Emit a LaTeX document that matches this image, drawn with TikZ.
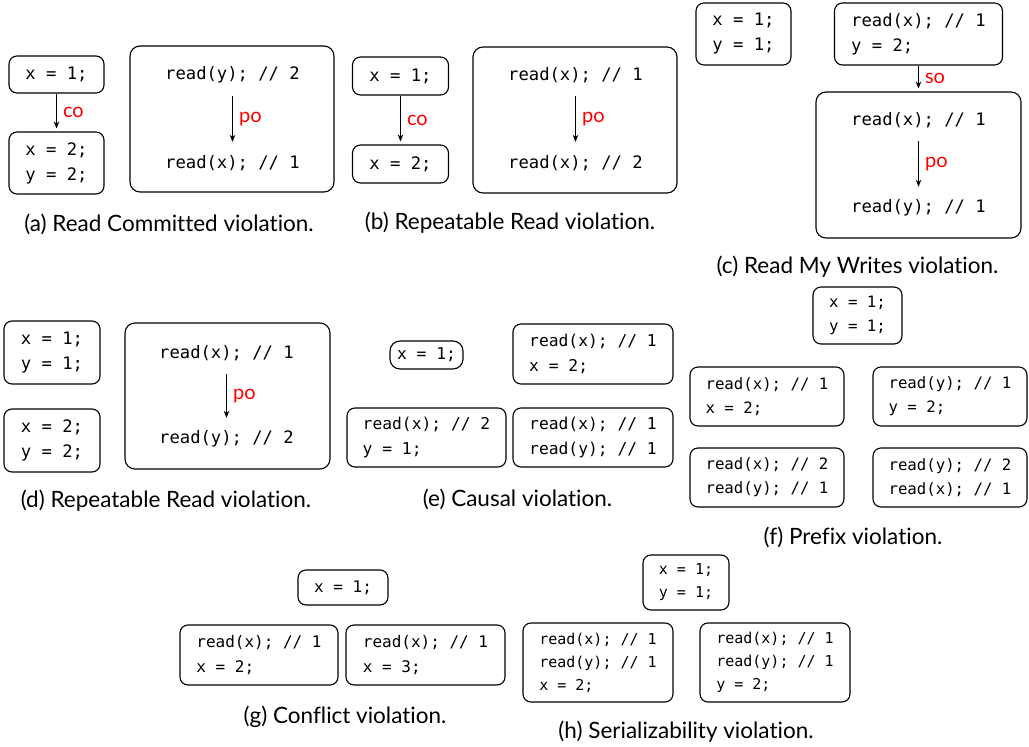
\documentclass[tikz,border=0pt]{standalone}
\usepackage{fontspec}
\setmainfont{Lato}[Ligatures=NoCommon]
\newfontfamily\codefont{DejaVu Sans Mono}
\usetikzlibrary{arrows.meta}
\newcommand\capfont{\fontsize{22.5}{26}\selectfont}
\newcommand\lblfont{\fontsize{20}{22}\selectfont}
\tikzset{
  tx/.style={draw, rounded corners=8pt, line width=1.1pt, inner sep=0pt, align=left},
  bigbox/.style={draw, rounded corners=10pt, line width=1.1pt, inner sep=0pt},
  sz/.style 2 args={minimum width=#1pt, minimum height=#2pt},
  ln/.style={inner sep=0pt, minimum height=42pt},
  arr/.style={-{Stealth[length=7pt,width=5.5pt]}, line width=1.1pt},
  gap/.style={shorten >=3pt},
  lbl/.style={text=red, font=\lblfont, inner sep=2pt, right=4pt},
  captxt/.style={font=\capfont, inner sep=0pt},
  fA/.style={font=\codefont\fontsize{17.2}{25}\selectfont},
  fE/.style={font=\codefont\fontsize{16.3}{25}\selectfont},
  fF/.style={font=\codefont\fontsize{15.7}{24}\selectfont},
  fG/.style={font=\codefont\fontsize{16}{25}\selectfont},
  fH/.style={font=\codefont\fontsize{15}{23}\selectfont},
}
\begin{document}
\begin{tikzpicture}[x=1pt, y=-1pt]
\useasboundingbox (0,0) rectangle (1029,747);

% (a)
\node[tx, fA, sz={95}{37}] (a1) at (56.5,74.5) {x = 1;};
\node[tx, fA, sz={95}{62}] (a2) at (56.5,163) {x = 2;\\y = 2;};
\draw[arr, gap] (a1) -- node[lbl] {co} (a2);
\node[bigbox, sz={204}{146}] (aT) at (232,119) {};
\node[fA, ln] (a3) at (232.5,75) {read(y); // 2};
\node[fA, ln] (a4) at (232.5,163) {read(x); // 1};
\draw[arr] (a3) -- node[lbl] {po} (a4);
\node[captxt] (ca) at (169,224) {(a) Read Committed violation.};

% (b)
\node[tx, fA, sz={96}{38}] (b1) at (400.5,76) {x = 1;};
\node[tx, fA, sz={96}{38}] (b2) at (400.5,164) {x = 2;};
\draw[arr, gap] (b1) -- node[lbl] {co} (b2);
\node[bigbox, sz={204}{146}] (bT) at (575,120) {};
\node[fA, ln] (b3) at (575.5,75) {read(x); // 1};
\node[fA, ln] (b4) at (575.5,163) {read(x); // 2};
\draw[arr] (b3) -- node[lbl] {po} (b4);
\node[captxt] (cb) at (510,223) {(b) Repeatable Read violation.};

% (c)
\node[tx, fA, sz={95}{62}] (c1) at (743.5,34) {x = 1;\\y = 1;};
\node[tx, fA, sz={168}{62}] (c2) at (918.5,34) {read(x); // 1\\y = 2;};
\node[bigbox, sz={205}{146}] (cT) at (918.5,165) {};
\draw[arr, gap] (c2.south) -- node[lbl] {so} (cT.north);
\node[fA, ln] (c3) at (918.5,120) {read(x); // 1};
\node[fA, ln] (c4) at (918.5,208) {read(y); // 1};
\draw[arr] (c3) -- node[lbl] {po} (c4);
\node[captxt] (cc) at (857.5,267) {(c) Read My Writes violation.};

% (d)
\node[tx, fA, sz={96}{63}] (d1) at (52,352.5) {x = 1;\\y = 1;};
\node[tx, fA, sz={96}{63}] (d2) at (52,440.5) {x = 2;\\y = 2;};
\node[bigbox, sz={205}{146}] (dT) at (227.5,396) {};
\node[fA, ln] (d3) at (226.5,353) {read(x); // 1};
\node[fA, ln] (d4) at (226.5,439) {read(y); // 2};
\draw[arr] (d3) -- node[lbl] {po} (d4);
\node[captxt] (cd) at (166,501) {(d) Repeatable Read violation.};

% (e)
\node[tx, fE, sz={73}{28}, rounded corners=10pt] (e1) at (426.5,355) {x = 1;};
\node[tx, fE, sz={160}{60}] (e2) at (593,354) {read(x); // 1\\x = 2;};
\node[tx, fE, sz={159}{59}] (e3) at (426.5,437.5) {read(x); // 2\\y = 1;};
\node[tx, fE, sz={160}{59}] (e4) at (593,437.5) {read(x); // 1\\read(y); // 1};
\node[captxt] (ce) at (517.5,499) {(e) Causal violation.};

% (f)
\node[tx, fF, sz={89}{57}] (f1) at (857.5,315.5) {x = 1;\\y = 1;};
\node[tx, fF, sz={154}{59}] (f2) at (767,396.5) {read(x); // 1\\x = 2;};
\node[tx, fF, sz={154}{59}] (f3) at (950,396.5) {read(y); // 1\\y = 2;};
\node[tx, fF, sz={154}{59}] (f4) at (767,477.5) {read(x); // 2\\read(y); // 1};
\node[tx, fF, sz={154}{59}] (f5) at (950,477.5) {read(y); // 2\\read(x); // 1};
\node[captxt] (cf) at (853,537) {(f) Prefix violation.};

% (g)
\node[tx, fG, sz={90}{35}] (g1) at (343,587.5) {x = 1;};
\node[tx, fG, sz={158}{60}] (g2) at (259,655) {read(x); // 1\\x = 2;};
\node[tx, fG, sz={159}{60}] (g3) at (425.5,655) {read(x); // 1\\x = 3;};
\node[captxt] (cg) at (345,717) {(g) Conflict violation.};

% (h)
\node[tx, fH, sz={86}{55}] (h1) at (686,582.5) {x = 1;\\y = 1;};
\node[tx, fH, sz={150}{79}] (h2) at (598,662.5) {read(x); // 1\\read(y); // 1\\x = 2;};
\node[tx, fH, sz={150}{79}] (h3) at (775,662.5) {read(x); // 1\\read(y); // 1\\y = 2;};
\node[captxt] (ch) at (686,732) {(h) Serializability violation.};
\end{tikzpicture}
\end{document}
